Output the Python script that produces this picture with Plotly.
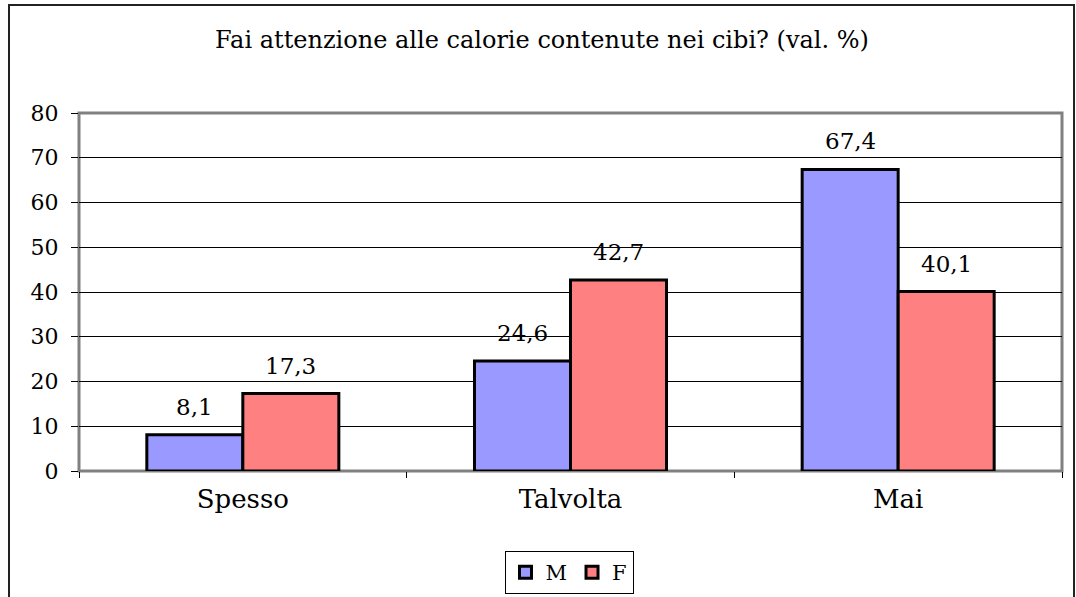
import plotly.graph_objects as go

categories = ["Spesso", "Talvolta", "Mai"]
m_values = [8.1, 24.6, 67.4]
f_values = [17.3, 42.7, 40.1]
y_ticks = [0, 10, 20, 30, 40, 50, 60, 70, 80]
title_text = "Fai attenzione alle calorie contenute nei cibi? (val. %)"

FONT = "DejaVu Serif"
W, H = 1076, 597
L, R, T, B = 79, 14, 113, 126
pw, ph = W - L - R, H - T - B

def px_to_paper_x(px):
    return (px - L) / pw

def px_to_paper_y(py):
    return (H - B - py) / ph

fig = go.Figure()
fig.add_trace(go.Bar(name="M", x=categories, y=m_values,
                     marker=dict(color="#9999FF", line=dict(color="black", width=3))))
fig.add_trace(go.Bar(name="F", x=categories, y=f_values,
                     marker=dict(color="#FF8080", line=dict(color="black", width=3))))

annotations = []
for vals, shift in ((m_values, -48), (f_values, 48)):
    for c, v in zip(categories, vals):
        annotations.append(dict(x=c, y=v, xref="x", yref="y", text=f"{v:.1f}".replace(".", ","),
                                showarrow=False, xshift=shift, yshift=28, yanchor="middle",
                                font=dict(family=FONT, size=23, color="black")))

fig.update_layout(
    width=W, height=H,
    margin=dict(l=L, r=R, t=T, b=B, autoexpand=False),
    paper_bgcolor="white", plot_bgcolor="white",
    barmode="group", bargap=0.414, bargroupgap=0,
    title=dict(text=title_text, x=542 / W, xanchor="center", y=1 - 40 / H, yanchor="middle",
               font=dict(family=FONT, size=24, color="black")),
    font=dict(family=FONT, color="black"),
    showlegend=True,
    legend=dict(orientation="h", x=px_to_paper_x(569), xanchor="center",
                y=px_to_paper_y(551), yanchor="top",
                bordercolor="black", borderwidth=1, bgcolor="white",
                font=dict(family=FONT, size=21, color="black"),
                itemwidth=30, tracegroupgap=0),
    annotations=annotations,
    shapes=[
        dict(type="rect", xref="paper", yref="paper", x0=0, x1=1, y0=0, y1=1,
             line=dict(color="#808080", width=3), layer="below"),
        dict(type="rect", xref="paper", yref="paper",
             x0=px_to_paper_x(9), x1=px_to_paper_x(1074),
             y0=px_to_paper_y(610), y1=px_to_paper_y(5),
             line=dict(color="#222222", width=2)),
    ],
)

fig.update_xaxes(type="category", tickson="boundaries", ticks="outside", ticklen=6,
                 tickcolor="black", tickwidth=1, showgrid=False, showline=False,
                 ticklabelstandoff=10,
                 tickfont=dict(family=FONT, size=26, color="black"))
fig.update_yaxes(range=[0, 80], tickvals=y_ticks, ticks="outside", ticklen=7,
                 tickcolor="black", tickwidth=1, showgrid=True, gridcolor="black",
                 gridwidth=1, zeroline=False, showline=False,
                 ticklabelstandoff=8,
                 tickfont=dict(family=FONT, size=22, color="black"))

fig.write_html("out.html", config={"displayModeBar": False},
               post_script="document.body.style.margin='0';")
